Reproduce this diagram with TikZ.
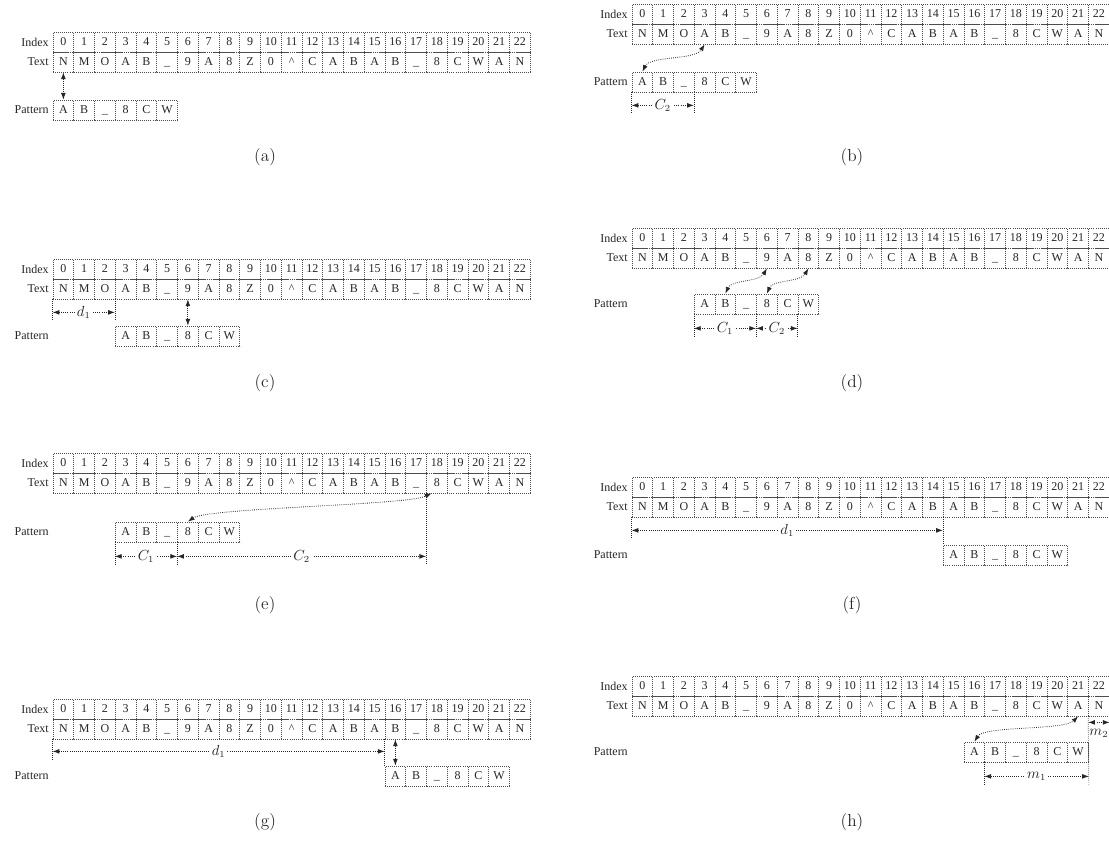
\documentclass[tikz,border=0pt]{standalone}
\usepackage{fontspec}
\usetikzlibrary{arrows.meta,calc}
\newfontfamily\cellfont{Liberation Serif}

\definecolor{ink}{gray}{0.15}
\definecolor{gridgray}{gray}{0.3}

\tikzset{
  cell/.style={draw=gridgray, densely dotted, line width=0.55pt,
    minimum width=15.56pt, minimum height=15pt, inner sep=0pt,
    text height=6.3pt, text depth=1.6pt,
    font=\cellfont\fontsize{9}{10}\selectfont, text=ink},
  rowlab/.style={anchor=east, inner sep=0pt,
    font=\cellfont\fontsize{9}{10}\selectfont, text=ink},
  link/.style={densely dotted, line width=0.6pt, draw=ink,
    {Latex[length=5pt,width=3.6pt]}-{Latex[length=5pt,width=3.6pt]}},
  dim/.style={link},
  dimlab/.style={fill=white, inner sep=1.5pt,
    font=\fontsize{10.5}{12}\selectfont, text=ink},
  extline/.style={densely dotted, line width=0.5pt, draw=ink},
  caption/.style={font=\fontsize{13}{15}\selectfont, text=ink},
}

% Index and Text rows: #1 prefix, #2 left edge, #3 centre of the index row
\newcommand\strrows[3]{%
  \node[rowlab] (#1-ilab) at ({#2-4},#3) {Index};
  \node[rowlab] (#1-tlab) at ({#2-4},{#3+20}) {Text};
  \foreach \ch [count=\k from 0] in {N,M,O,A,B,\textunderscore,9,A,8,Z,0,\textasciicircum,C,A,B,A,B,\textunderscore,8,C,W,A,N}{
    \node[cell] (#1-i\k) at ({#2+(\k+0.5)*20.75},#3) {\k};
    \node[cell] (#1-t\k) at ({#2+(\k+0.5)*20.75},{#3+20}) {\ch};
  }%
}

% Pattern row: #1 prefix, #2 left edge of the table, #3 first cell, #4 centre y
\newcommand\patrow[4]{%
  \node[rowlab] (#1-plab) at ({#2-4},#4) {Pattern};
  \foreach \ch [count=\k from 0] in {A,B,\textunderscore,8,C,W}{
    \node[cell] (#1-p\k) at ({#2+(#3+\k+0.5)*20.75},#4) {\ch};
  }%
}

\begin{document}
\begin{tikzpicture}[x=0.75pt,y=-0.75pt]
\useasboundingbox (0,0) rectangle (1109,840);

% ---------- (a) ----------
\strrows{a}{53}{42}
\patrow{a}{53}{0}{110}
\draw[link] (a-t0.south) -- (a-p0.north);
\node[caption] (capa) at (265,157) {(a)};

% ---------- (b) ----------
\strrows{b}{632}{14}
\patrow{b}{632}{0}{82}
\draw[link] (b-p0.north) .. controls +(8,-16) and +(-10,16) .. (b-t3.south);
\coordinate (b-c2a) at ($(b-p0.south west)+(0,13)$);
\coordinate (b-c2b) at ($(b-p3.south west)+(0,13)$);
\coordinate (b-e1) at ($(b-p0.south west)+(0,22)$);
\coordinate (b-e2) at ($(b-p3.south west)+(0,22)$);
\draw[extline] (b-p0.south west) -- (b-e1);
\draw[extline] (b-p3.south west) -- (b-e2);
\draw[dim] (b-c2a) -- node[dimlab] {$C_2$} (b-c2b);
\node[caption] (capb) at (852,157) {(b)};

% ---------- (c) ----------
\strrows{c}{53}{269}
\patrow{c}{53}{3}{336}
\coordinate (c-d1a) at ($(c-t0.south west)+(0,13)$);
\coordinate (c-d1b) at ($(c-t3.south west)+(0,13)$);
\coordinate (c-e1) at ($(c-t0.south west)+(0,21)$);
\coordinate (c-e2) at ($(c-t3.south west)+(0,21)$);
\draw[extline] (c-t0.south west) -- (c-e1);
\draw[extline] (c-t3.south west) -- (c-e2);
\draw[dim] (c-d1a) -- node[dimlab] {$d_1$} (c-d1b);
\draw[link] (c-t6.south) -- (c-p3.north);
\node[caption] (capc) at (265,383) {(c)};

% ---------- (d) ----------
\strrows{d}{632}{238}
\patrow{d}{632}{3}{304}
\draw[link] (d-p1.north) .. controls +(6,-14) and +(-8,14) .. (d-t6.south);
\draw[link] (d-p3.north) .. controls +(6,-14) and +(-8,14) .. (d-t8.south);
\coordinate (d-c1a) at ($(d-p0.south west)+(0,14)$);
\coordinate (d-c1b) at ($(d-p3.south west)+(0,14)$);
\coordinate (d-c2b) at ($(d-p5.south west)+(0,14)$);
\coordinate (d-e1) at ($(d-p0.south west)+(0,24)$);
\coordinate (d-e2) at ($(d-p3.south west)+(0,24)$);
\coordinate (d-e3) at ($(d-p5.south west)+(0,24)$);
\draw[extline] (d-p0.south west) -- (d-e1);
\draw[extline] (d-p3.south west) -- (d-e2);
\draw[extline] (d-p5.south west) -- (d-e3);
\draw[dim] (d-c1a) -- node[dimlab] {$C_1$} (d-c1b);
\draw[dim] (d-c1b) -- node[dimlab] {$C_2$} (d-c2b);
\node[caption] (capd) at (852,383) {(d)};

% ---------- (e) ----------
\strrows{e}{53}{463}
\patrow{e}{53}{3}{532}
\draw[link] (e-p3.north) .. controls +(20,-14) and +(-25,12) .. ([xshift=4pt]e-t18.south west);
\coordinate (e-c1a) at ($(e-p0.south west)+(0,14)$);
\coordinate (e-c1b) at ($(e-p3.south west)+(0,14)$);
\coordinate (e-c2b) at (e-t18.south west |- e-c1a);
\coordinate (e-e1) at ($(e-p0.south west)+(0,23)$);
\coordinate (e-e2) at ($(e-p3.south west)+(0,23)$);
\coordinate (e-e3) at (e-t18.south west |- e-e1);
\draw[extline] (e-p0.south west) -- (e-e1);
\draw[extline] (e-p3.south west) -- (e-e2);
\draw[extline] (e-t18.south west) -- (e-e3);
\draw[dim] (e-c1a) -- node[dimlab] {$C_1$} (e-c1b);
\draw[dim] (e-c1b) -- node[dimlab] {$C_2$} (e-c2b);
\node[caption] (cape) at (265,605) {(e)};

% ---------- (f) ----------
\strrows{f}{632}{487}
\patrow{f}{632}{15}{555}
\coordinate (f-d1a) at ($(f-t0.south west)+(0,13)$);
\coordinate (f-d1b) at ($(f-t15.south west)+(0,13)$);
\coordinate (f-e1) at ($(f-t0.south west)+(0,22)$);
\draw[extline] (f-t0.south west) -- (f-e1);
\draw[extline] (f-t15.south west) -- (f-p0.north west);
\draw[dim] (f-d1a) -- node[dimlab] {$d_1$} (f-d1b);
\node[caption] (capf) at (852,605) {(f)};

% ---------- (g) ----------
\strrows{g}{53}{709}
\patrow{g}{53}{16}{776}
\coordinate (g-d1a) at ($(g-t0.south west)+(0,12)$);
\coordinate (g-d1b) at ($(g-t16.south west)+(0,12)$);
\coordinate (g-e1) at ($(g-t0.south west)+(0,21)$);
\draw[extline] (g-t0.south west) -- (g-e1);
\draw[extline] (g-t16.south west) -- (g-p0.north west);
\draw[dim] (g-d1a) -- node[dimlab] {$d_1$} (g-d1b);
\draw[link] (g-t16.south) -- (g-p0.north);
\node[caption] (capg) at (265,822) {(g)};

% ---------- (h) ----------
\strrows{h}{632}{686}
\patrow{h}{632}{16}{752}
\draw[link] (h-p0.north) .. controls +(10,-16) and +(-14,14) .. (h-t21.south);
\coordinate (h-m2a) at ($(h-t22.south west)+(0,6)$);
\coordinate (h-m2b) at ($(h-t22.south east)+(0,6)$);
\coordinate (h-m1a) at ($(h-p1.south west)+(0,14)$);
\coordinate (h-m1b) at ($(h-p5.south east)+(0,14)$);
\coordinate (h-e1) at ($(h-p1.south west)+(0,23)$);
\coordinate (h-e2) at ($(h-p5.south east)+(0,23)$);
\draw[extline] (h-t22.south west) -- (h-e2);
\draw[extline] (h-p1.south west) -- (h-e1);
\draw[dim] (h-m2a) -- node[below=5pt, inner sep=0pt, font=\fontsize{10.5}{12}\selectfont, text=ink] {$m_2$} (h-m2b);
\draw[dim] (h-m1a) -- node[dimlab] {$m_1$} (h-m1b);
\node[caption] (caph) at (852,822) {(h)};
\end{tikzpicture}
\end{document}
